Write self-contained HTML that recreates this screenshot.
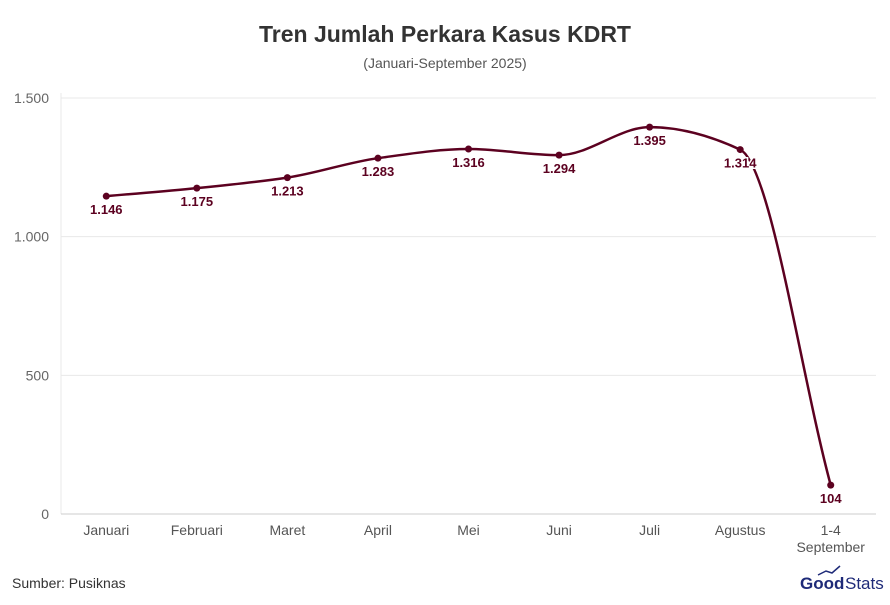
<!DOCTYPE html>
<html><head><meta charset="utf-8"><style>
body{margin:0;background:#fff;font-family:"Liberation Sans",sans-serif;}
svg{display:block}
</style></head><body>
<svg id="c" width="890" height="605">
<text x="445" y="42" text-anchor="middle" font-size="23" font-weight="bold" fill="#333">Tren Jumlah Perkara Kasus KDRT</text>
<text x="445" y="68" text-anchor="middle" font-size="14" fill="#555">(Januari-September 2025)</text>
<text x="12" y="588" font-size="14" fill="#333">Sumber: Pusiknas</text>
<g>
<text x="800" y="589" font-size="17" font-weight="bold" fill="#1e2a78">Good</text>
<text x="845" y="589" font-size="17" fill="#1e2a78">Stats</text>
<polyline points="818,575 826,571 832,573 840,566" fill="none" stroke="#1e2a78" stroke-width="1.5"/>
</g>
<g id="grid"></g><g id="axes"></g><g id="series"></g>
</svg>
<script>
const categories=["Januari","Februari","Maret","April","Mei","Juni","Juli","Agustus","1-4|September"];
const values=[1146,1175,1213,1283,1316,1294,1395,1314,104];
const valueLabels=["1.146","1.175","1.213","1.283","1.316","1.294","1.395","1.314","104"];
const yTicks=[0,500,1000,1500];
const yTickLabels=["0","500","1.000","1.500"];
const NS="http://www.w3.org/2000/svg";
const L=61,R=876,T=98,B=514;
const xS=i=>L+(R-L)/categories.length*(i+0.5);
const yS=v=>B-(B-T)*v/1500;
function mk(t,a,p){const e=document.createElementNS(NS,t);for(const k in a)e.setAttribute(k,a[k]);p.appendChild(e);return e;}
const grid=document.getElementById('grid'),axes=document.getElementById('axes'),ser=document.getElementById('series');
yTicks.forEach((v,i)=>{
const g=mk('line',{x1:L,x2:R,y1:yS(v),y2:yS(v),stroke:'#e8e8e8'},grid);


const t=mk('text',{x:49,y:yS(v)+5,'text-anchor':'end','font-size':14,fill:'#666'},axes);
t.textContent=yTickLabels[i];


});
const ax=mk('line',{x1:L,x2:L,y1:T-5,y2:B,stroke:'#e8e8e8'},axes);


const bx=mk('line',{x1:L,x2:R,y1:B,y2:B,stroke:'#ccc'},axes);


categories.forEach((c,i)=>{
const t=mk('text',{x:xS(i),y:535,'text-anchor':'middle','font-size':14,fill:'#555'},axes);
const parts=c.split('|');
parts.forEach((p,j)=>{const s=mk('tspan',{x:xS(i),dy:j?17:0},t);s.textContent=p;});


});
const pts=values.map((v,i)=>[xS(i),yS(v)]);
// monotone X interpolation
const n=pts.length,sl=[],m=[];
for(let i=0;i<n-1;i++)sl.push((pts[i+1][1]-pts[i][1])/(pts[i+1][0]-pts[i][0]));
for(let i=0;i<n;i++){
if(i===0)m.push(sl[0]);else if(i===n-1)m.push(sl[n-2]);
else{const a=sl[i-1],b=sl[i];m.push(a*b<=0?0:2*a*b/(a+b));}
}
let d=`M${pts[0][0]},${pts[0][1]}`;
for(let i=0;i<n-1;i++){
const h=(pts[i+1][0]-pts[i][0])/3;
d+=` C${pts[i][0]+h},${pts[i][1]+m[i]*h} ${pts[i+1][0]-h},${pts[i+1][1]-m[i+1]*h} ${pts[i+1][0]},${pts[i+1][1]}`;
}
const line=mk('path',{d:d,fill:'none',stroke:'#5c0120','stroke-width':2.5},ser);


pts.forEach((p,i)=>{
const c=mk('circle',{cx:p[0],cy:p[1],r:3.5,fill:'#5c0120'},ser);


const t=mk('text',{x:p[0],y:p[1]+18,'text-anchor':'middle','font-size':13,'font-weight':'bold',fill:'#5c0120',stroke:'#fff','stroke-width':3,'paint-order':'stroke'},ser);
t.textContent=valueLabels[i];


});
</script>
</body></html>
